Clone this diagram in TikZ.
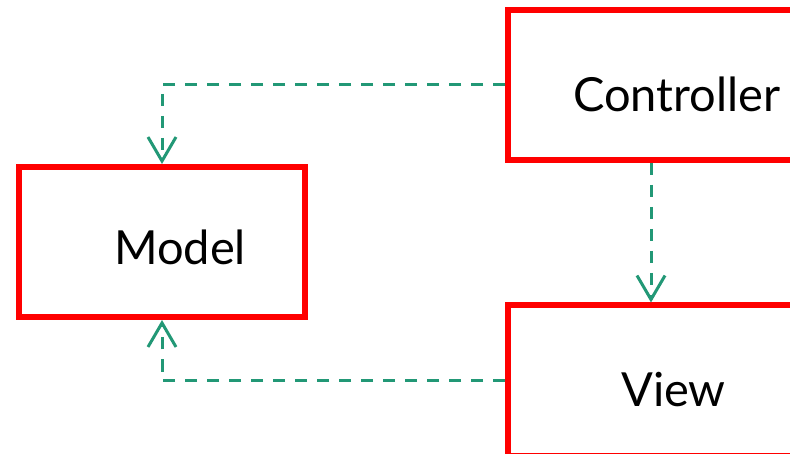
\documentclass[tikz,border=0pt]{standalone}
\usepackage{fontspec}
\setmainfont{Lato}
\usetikzlibrary{arrows.meta}
\definecolor{boxred}{RGB}{255,0,0}
\definecolor{linkgreen}{RGB}{34,152,118}
\tikzset{
  mvcbox/.style={draw=boxred, line width=6pt, rectangle, minimum width=286pt, minimum height=150pt, inner sep=0pt, fill=white},
  mvclabel/.style={font=\fontsize{47}{50}\selectfont, anchor=base west, inner sep=0pt},
  dep/.style={draw=linkgreen, line width=3pt, dash pattern=on 12pt off 10pt,
    -{Straight Barb[length=24pt,width=28pt,line width=3pt]}}
}
\begin{document}
\begin{tikzpicture}[x=1pt,y=-1pt]
\clip (0,0) rectangle (790,454);
\fill[white] (0,0) rectangle (790,454);
\node[mvcbox] (model) at (162,242) {};
\node[mvcbox] (ctrl) at (651,85) {};
\node[mvcbox] (view) at (651,380.5) {};
\node[mvclabel] (modeltxt) at (114,265) {Model};
\node[mvclabel] (ctrltxt) at (573,112) {Controller};
\node[mvclabel] (viewtxt) at (621,406) {View};
\draw[dep] (ctrl.west) -| (model.north);
\draw[dep] (view.west) -| (model.south);
\draw[dep] (ctrl.south) -- (view.north);
\end{tikzpicture}
\end{document}
